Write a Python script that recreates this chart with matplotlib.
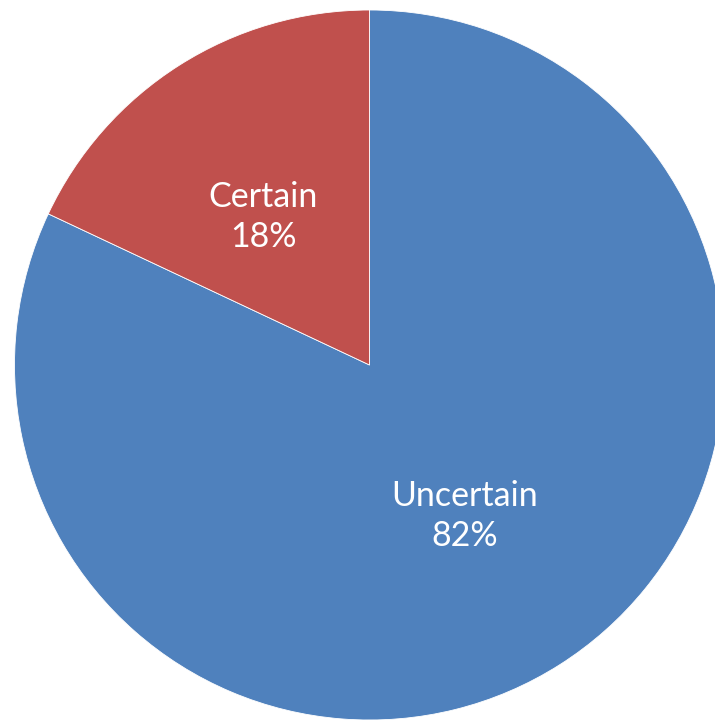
import matplotlib
matplotlib.use("Agg")
import matplotlib.pyplot as plt

labels = ["Uncertain", "Certain"]
shares = [82, 18]
colors = ["#4F81BD", "#C0504D"]

# pixel geometry of the pie inside the 715x720 canvas
W, H = 715, 720
CX, CY, R = 369.5, 365.0, 355.0

# label anchors, in pie radii from the centre
label_pos = [(0.269, -0.425), (-0.300, 0.417)]

fig = plt.figure(figsize=(W / 100, H / 100), dpi=100)
fig.patch.set_facecolor("white")
ax = fig.add_axes([0, 0, 1, 1])

wedges, texts = ax.pie(
    shares,
    colors=colors,
    startangle=90,
    counterclock=False,
    radius=1.0,
    wedgeprops=dict(edgecolor="white", linewidth=0.6),
)

for (x, y), lab, val in zip(label_pos, labels, shares):
    ax.text(x, y, f"{lab}\n{val}%", ha="center", va="center",
            color="white", fontsize=24.5, family=["Lato", "DejaVu Sans"],
            linespacing=1.28)

ax.set_xlim(-CX / R, (W - CX) / R)
ax.set_ylim(-(H - CY) / R, CY / R)
ax.set_aspect("auto")
ax.axis("off")

fig.savefig("out.png", dpi=100)
